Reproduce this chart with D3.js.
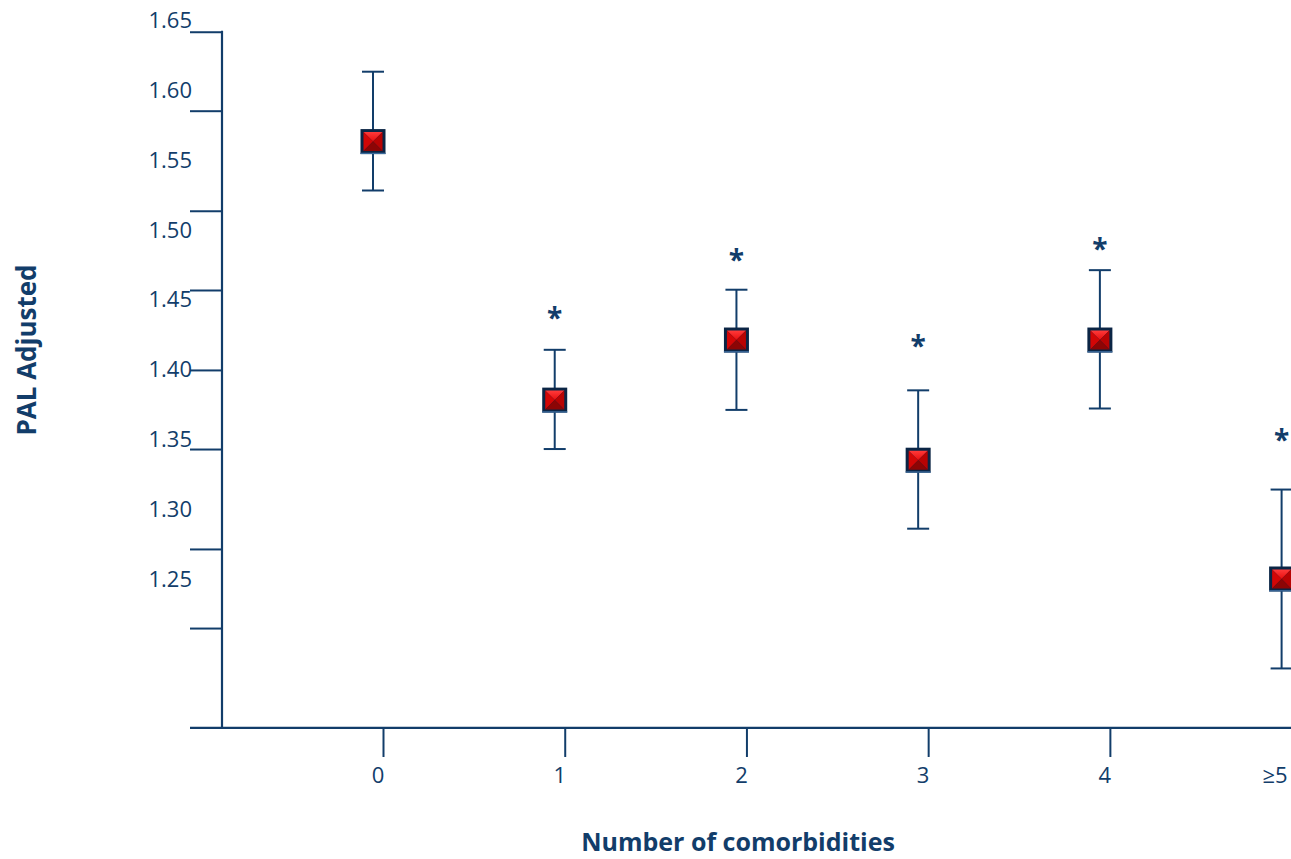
<!DOCTYPE html>
<html>
<head>
<meta charset="utf-8">
<script src="https://cdn.jsdelivr.net/npm/d3@7"></script>
<style>
  html, body { margin: 0; padding: 0; background: #ffffff; }
  svg { display: block; }
  text { font-family: "Open Sans", Lato, "DejaVu Sans", sans-serif; fill: #123d6a; }
</style>
</head>
<body>
<svg id="chart" width="1291" height="859"></svg>
<script>
// Adjusted PAL by number of comorbidities (mean with 95% CI)
const categories = ["0", "1", "2", "3", "4", "\u22655"];
const meanPAL   = [1.563, 1.378, 1.421, 1.335, 1.421, 1.250];
const upperCI   = [1.613, 1.414, 1.457, 1.385, 1.471, 1.314];
const lowerCI   = [1.528, 1.343, 1.371, 1.286, 1.372, 1.186];
const significant = [false, true, true, true, true, true];
// vertical placement of the significance asterisks, in PAL units
const starLevel = [null, 1.440, 1.482, 1.420, 1.490, 1.353];

const yLabelValues = [1.65, 1.60, 1.55, 1.50, 1.45, 1.40, 1.35, 1.30, 1.25];
const yTickValues  = [1.6416, 1.5851, 1.5135, 1.4568, 1.3996, 1.3430, 1.2715, 1.2149];
const yAxisTop = 1.6416;
const yAxisBase = 1.1434;

const W = 1291, H = 859;
const navy = "#123d6a";
const svg = d3.select("#chart");

const y = d3.scaleLinear().domain([1.25, 1.65]).range([579, 20]);
const x = d3.scalePoint().domain(categories).range([373, 1281.6]);

const axisX = 222;           // y-axis position
const baseY = y(yAxisBase);  // x-axis position

// ---- y axis: line, tick marks, labels
const yAxisG = svg.append("g").attr("transform", `translate(${axisX},0)`);
yAxisG.call(d3.axisLeft(y).tickValues(yTickValues).tickSize(32).tickFormat(""))
  .call(g => g.select(".domain").remove());
yAxisG.selectAll(".tick line").attr("stroke", navy).attr("stroke-width", 2);
yAxisG.append("line")
  .attr("x1", 0).attr("x2", 0)
  .attr("y1", y(yAxisTop) - 1).attr("y2", baseY)
  .attr("stroke", navy).attr("stroke-width", 2.2);

svg.append("g").selectAll("text").data(yLabelValues).join("text")
  .attr("x", 192)
  .attr("y", d => y(d))
  .attr("dy", "0.36em")
  .attr("text-anchor", "end")
  .style("font-size", "22px")
  .text(d => d.toFixed(2));

// ---- x axis: baseline, tick marks, labels
svg.append("line")
  .attr("x1", 190).attr("x2", W)
  .attr("y1", baseY).attr("y2", baseY)
  .attr("stroke", navy).attr("stroke-width", 2.2);

const xAxisG = svg.append("g").attr("transform", `translate(10,${baseY})`);
xAxisG.call(d3.axisBottom(x).tickSize(29).tickFormat(""))
  .call(g => g.select(".domain").remove());
xAxisG.selectAll(".tick line").attr("stroke", navy).attr("stroke-width", 2);

svg.append("g").selectAll("text").data(categories).join("text")
  .attr("x", d => Math.min(x(d) + 5, W - 16))
  .attr("y", 783)
  .attr("text-anchor", "middle")
  .style("font-size", "22px")
  .text(d => d);

// ---- axis titles
svg.append("text")
  .attr("transform", `translate(36,350) rotate(-90)`)
  .attr("text-anchor", "middle")
  .style("font-size", "26px")
  .style("font-weight", "bold")
  .text("PAL Adjusted");

svg.append("text")
  .attr("x", 738).attr("y", 851)
  .attr("text-anchor", "middle")
  .style("font-size", "25px")
  .style("font-weight", "bold")
  .text("Number of comorbidities");

// ---- error bars
const data = categories.map((c, i) => ({
  c, mean: meanPAL[i], hi: upperCI[i], lo: lowerCI[i],
  sig: significant[i], star: starLevel[i]
}));

const bars = svg.append("g").selectAll("g").data(data).join("g");
bars.append("line")
  .attr("x1", d => x(d.c)).attr("x2", d => x(d.c))
  .attr("y1", d => y(d.hi)).attr("y2", d => y(d.lo))
  .attr("stroke", navy).attr("stroke-width", 2);
bars.append("line")
  .attr("x1", d => x(d.c) - 11).attr("x2", d => x(d.c) + 11)
  .attr("y1", d => y(d.hi)).attr("y2", d => y(d.hi))
  .attr("stroke", navy).attr("stroke-width", 2);
bars.append("line")
  .attr("x1", d => x(d.c) - 11).attr("x2", d => x(d.c) + 11)
  .attr("y1", d => y(d.lo)).attr("y2", d => y(d.lo))
  .attr("stroke", navy).attr("stroke-width", 2);

// ---- bevelled square markers
const defs = svg.append("defs");
const gTop = defs.append("linearGradient").attr("id", "gTop")
  .attr("x1", 0).attr("y1", 0).attr("x2", 0).attr("y2", 1);
gTop.append("stop").attr("offset", "0%").attr("stop-color", "#ff3a3a");
gTop.append("stop").attr("offset", "100%").attr("stop-color", "#e80e0e");

const S = 25, B = 3, h = S / 2, r = h - B;
const markers = svg.append("g").selectAll("g").data(data).join("g")
  .attr("transform", d => `translate(${x(d.c)},${y(d.mean)})`);
markers.append("rect")
  .attr("x", -h).attr("y", -h).attr("width", S).attr("height", S)
  .attr("fill", "#0b2545");
markers.append("line")
  .attr("x1", -h).attr("x2", h).attr("y1", h - 0.7).attr("y2", h - 0.7)
  .attr("stroke", "#3b6a9c").attr("stroke-width", 1.4);
markers.append("polygon") // top facet
  .attr("points", `${-r},${-r} ${r},${-r} 0,0`).attr("fill", "url(#gTop)");
markers.append("polygon") // left facet
  .attr("points", `${-r},${-r} ${-r},${r} 0,0`).attr("fill", "#d30606");
markers.append("polygon") // right facet
  .attr("points", `${r},${-r} ${r},${r} 0,0`).attr("fill", "#b80303");
markers.append("polygon") // bottom facet
  .attr("points", `${-r},${r} ${r},${r} 0,0`).attr("fill", "#8c0505");

// ---- significance asterisks
svg.append("g").selectAll("text").data(data.filter(d => d.sig)).join("text")
  .attr("x", d => x(d.c))
  .attr("y", d => y(d.star) + 15)
  .attr("text-anchor", "middle")
  .style("font-size", "28px")
  .style("font-weight", "bold")
  .text("*");
</script>
</body>
</html>
